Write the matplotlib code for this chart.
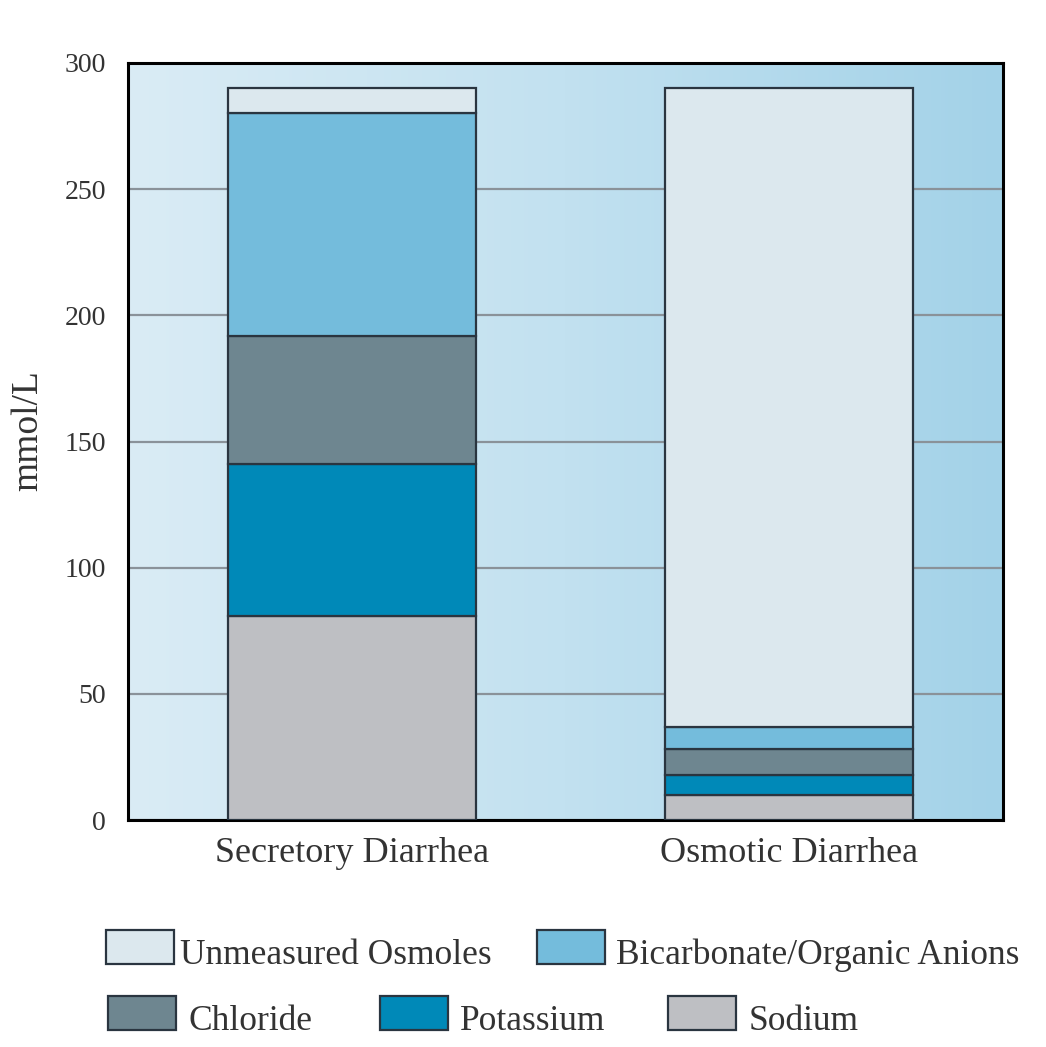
import numpy as np
import matplotlib
matplotlib.use("Agg")
import matplotlib.pyplot as plt
from matplotlib.patches import Rectangle
from matplotlib.colors import LinearSegmentedColormap

plt.rcParams['font.family'] = ['Liberation Serif', 'DejaVu Serif']

# data (mmol/L)
groups = ['Secretory Diarrhea', 'Osmotic Diarrhea']
components = ['Sodium', 'Potassium', 'Chloride', 'Bicarbonate/Organic Anions', 'Unmeasured Osmoles']
sodium = [81, 10]
potassium = [60, 8]
chloride = [51, 10]
bicarbonate = [88, 9]
unmeasured = [10, 253]
colors = ['#bebfc3', '#0089b8', '#6e8690', '#74bcdc', '#dce8ee']
yticks = [0, 50, 100, 150, 200, 250, 300]

W, H = 1046, 1047
fig = plt.figure(figsize=(W / 100, H / 100), dpi=100)
ax = fig.add_axes([128 / W, 1 - 820 / H, 875 / W, 757 / H])

# background gradient
grad = np.linspace(0, 1, 256).reshape(1, -1)
bg = LinearSegmentedColormap.from_list('bg', ['#daecf5', '#c2e1f0', '#a3d2e8'])
ax.imshow(grad, cmap=bg, aspect='auto', extent=(-0.513, 1.49, 0, 300), zorder=0)

x = np.arange(len(groups))
bottom = np.zeros(len(groups))
for vals, c in zip([sodium, potassium, chloride, bicarbonate, unmeasured], colors):
    ax.bar(x, vals, width=0.567, bottom=bottom, color=c, edgecolor='#2a3540',
           linewidth=1.6, zorder=3)
    bottom += np.array(vals)

ax.set_xlim(-0.513, 1.49)
ax.set_ylim(0, 300)
ax.set_yticks(yticks)
ax.yaxis.grid(True, color='#8a9299', linewidth=1.6, zorder=1)
ax.set_axisbelow(True)
ax.tick_params(length=0, labelsize=20, labelcolor='#333333')
ax.tick_params(axis='y', pad=16)
ax.tick_params(axis='x', pad=12, labelsize=26)
ax.set_xticks(x)
ax.set_xticklabels(groups)
for s in ax.spines.values():
    s.set_linewidth(2.2)
    s.set_color('black')
ax.set_ylabel('mmol/L', fontsize=27, color='#333333')
ax.yaxis.set_label_coords(-0.095, 0.515)

# legend drawn by hand
legend_items = [
    ('Unmeasured Osmoles', colors[4], 106, 930, 180),
    ('Bicarbonate/Organic Anions', colors[3], 537, 930, 616),
    ('Chloride', colors[2], 108, 996, 188),
    ('Potassium', colors[1], 380, 996, 460),
    ('Sodium', colors[0], 668, 996, 749),
]
for label, c, px, py, tx in legend_items:
    fig.add_artist(Rectangle((px / W, 1 - (py + 34) / H), 68 / W, 34 / H,
                             transform=fig.transFigure, facecolor=c,
                             edgecolor='#2a3540', linewidth=1.6))
    fig.text(tx / W, 1 - (py + 25) / H, label, fontsize=25.5,
             color='#333333', va='center', ha='left')

fig.savefig('out.png', dpi=100)
